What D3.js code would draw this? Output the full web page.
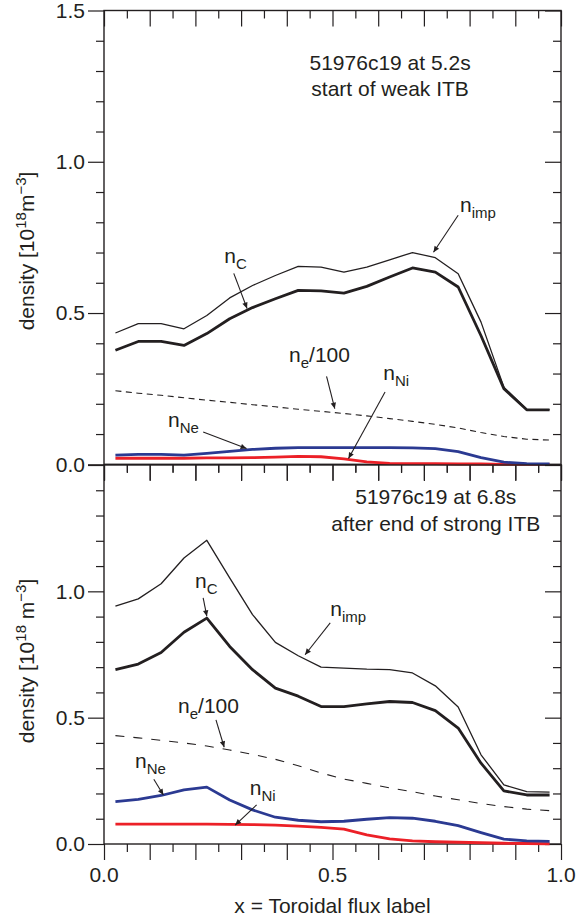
<!DOCTYPE html>
<html><head><meta charset="utf-8">
<script src="https://cdn.jsdelivr.net/npm/d3@7"></script>
<style>
body{margin:0;background:#fff}
svg{display:block}
text{font-family:"Liberation Sans",Arial,Helvetica,sans-serif;fill:#231f20}
</style>
</head><body><svg id="c" width="578" height="922"></svg>
<script>
// ---------- data ----------
const xVals = [0.025,0.075,0.125,0.175,0.225,0.275,0.325,0.375,0.425,0.475,0.525,0.575,0.625,0.675,0.725,0.775,0.825,0.875,0.925,0.975];

// top panel: 51976c19 at 5.2s
const topImp = [0.434,0.465,0.465,0.448,0.492,0.550,0.591,0.624,0.654,0.652,0.635,0.652,0.676,0.700,0.683,0.630,0.470,0.255,0.181,0.181];
const topC   = [0.377,0.406,0.406,0.393,0.432,0.481,0.518,0.547,0.575,0.573,0.566,0.588,0.619,0.649,0.635,0.586,0.425,0.250,0.180,0.180];
const topNe100 = [0.243,0.235,0.228,0.220,0.212,0.205,0.197,0.190,0.182,0.175,0.168,0.160,0.151,0.142,0.132,0.120,0.105,0.092,0.083,0.080];
const topNeon = [0.030,0.033,0.033,0.030,0.036,0.043,0.049,0.053,0.055,0.055,0.055,0.055,0.055,0.054,0.052,0.042,0.022,0.007,0.002,0.001];
const topNi  = [0.020,0.020,0.020,0.020,0.021,0.021,0.022,0.024,0.026,0.025,0.018,0.008,0.003,0.002,0.002,0.001,0.001,0.000,0.000,0.000];

// bottom panel: 51976c19 at 6.8s
const botImp = [0.941,0.970,1.030,1.132,1.202,1.053,0.908,0.798,0.745,0.700,0.696,0.692,0.690,0.677,0.626,0.542,0.353,0.234,0.207,0.205];
const botC   = [0.690,0.712,0.758,0.838,0.894,0.782,0.690,0.617,0.585,0.544,0.544,0.555,0.564,0.560,0.528,0.459,0.320,0.210,0.194,0.194];
const botNe100 = [0.429,0.420,0.410,0.400,0.388,0.372,0.355,0.335,0.310,0.281,0.257,0.240,0.222,0.207,0.190,0.175,0.160,0.148,0.138,0.132];
const botNeon = [0.168,0.177,0.192,0.214,0.225,0.174,0.135,0.106,0.094,0.088,0.090,0.098,0.104,0.102,0.090,0.073,0.045,0.019,0.012,0.010];
const botNi  = [0.079,0.079,0.079,0.079,0.079,0.078,0.077,0.075,0.071,0.066,0.059,0.036,0.020,0.012,0.009,0.007,0.005,0.003,0.002,0.001];

// ticks
const xMajorTicks = [0,0.1,0.2,0.3,0.4,0.5,0.6,0.7,0.8,0.9,1.0];
const xMinorTicks = [0.05,0.15,0.25,0.35,0.45,0.55,0.65,0.75,0.85,0.95];
const xTickLabels = [0,0.5,1.0];
const yMajorTicks = [0,0.5,1.0,1.5];
const yMinorTicks = [0.1,0.2,0.3,0.4,0.6,0.7,0.8,0.9,1.1,1.2,1.3,1.4];
const topYLabels = [0,0.5,1.0,1.5];
const botYLabels = [0,0.5,1.0];

const topTitle = ["51976c19 at 5.2s","start of weak ITB"];
const botTitle = ["51976c19 at 6.8s","after end of strong ITB"];

// annotations: [main, sub, tail, textX, textY, arrowFromX, arrowFromY, arrowToX, arrowToY]
const topNotes = [
  ["n","C","",0.263,0.664, 0.284,0.631, 0.313,0.515],
  ["n","imp","",0.779,0.833, 0.775,0.823, 0.721,0.701],
  ["n","e","/100",0.405,0.338, 0.487,0.291, 0.505,0.184],
  ["n","Ni","",0.611,0.278, 0.615,0.239, 0.535,0.019],
  ["n","Ne","",0.140,0.122, 0.217,0.107, 0.312,0.052]
];
const botNotes = [
  ["n","C","",0.199,1.013, 0.217,0.974, 0.225,0.901],
  ["n","imp","",0.495,0.901, 0.495,0.875, 0.440,0.749],
  ["n","e","/100",0.162,0.518, 0.245,0.491, 0.263,0.383],
  ["n","Ne","",0.068,0.300, 0.109,0.256, 0.130,0.194],
  ["n","Ni","",0.319,0.194, 0.334,0.155, 0.287,0.075]
];

// ---------- drawing ----------
const svg = d3.select("#c");
const INK = "#231f20";
const BLUE = "#2b3a92";
const RED = "#ec2027";

const x = d3.scaleLinear().domain([0,1]).range([104,561]);
const yTop = d3.scaleLinear().domain([0,1.5]).range([464.3,10.5]);
const yBot = d3.scaleLinear().domain([0,1.5]).range([844,465]);

svg.append("defs").append("marker")
  .attr("id","ah").attr("viewBox","0 0 10 10").attr("refX",10).attr("refY",5)
  .attr("markerUnits","userSpaceOnUse").attr("markerWidth",8).attr("markerHeight",6)
  .attr("orient","auto")
  .append("path").attr("d","M0,0.5 L10,5 L0,9.5 Z").attr("fill",INK);

function styleAxis(g){
  g.select(".domain").remove();
  g.selectAll("line").attr("stroke",INK).attr("stroke-width",1.2);
  g.attr("font-family",null).attr("font-size",null);
  g.selectAll("text").attr("fill",INK).style("font-size","21px");
}

function panel(y, labels, series, notes, title){
  // x ticks along top and bottom edges (pointing down)
  [y.range()[1], y.range()[0]].forEach(py=>{
    svg.append("g").attr("transform",`translate(0,${py})`)
      .call(d3.axisBottom(x).tickValues(xMinorTicks).tickSize(8).tickFormat(""))
      .call(styleAxis);
    svg.append("g").attr("transform",`translate(0,${py})`)
      .call(d3.axisBottom(x).tickValues(xMajorTicks).tickSize(16).tickFormat(""))
      .call(styleAxis);
  });
  // y ticks on left (outside) and right (inside), all pointing left
  [x.range()[0], x.range()[1]].forEach((px,i)=>{
    svg.append("g").attr("transform",`translate(${px},0)`)
      .call(d3.axisLeft(y).tickValues(yMinorTicks).tickSize(8).tickFormat(""))
      .call(styleAxis);
    svg.append("g").attr("transform",`translate(${px},0)`)
      .call(d3.axisLeft(y).tickValues(yMajorTicks).tickSize(16).tickPadding(3)
        .tickFormat(d=> (i===0 && labels.includes(d)) ? d3.format(".1f")(d) : ""))
      .call(styleAxis);
  });
  // frame
  svg.append("rect")
    .attr("x",x.range()[0]).attr("y",y.range()[1])
    .attr("width",x.range()[1]-x.range()[0]).attr("height",y.range()[0]-y.range()[1])
    .attr("fill","none").attr("stroke",INK).attr("stroke-width",1.4);

  const line = arr => d3.line().x((d,i)=>x(xVals[i])).y(d=>y(d))(arr);
  const add = (arr, color, w, dash) => svg.append("path").attr("d",line(arr))
      .attr("fill","none").attr("stroke",color).attr("stroke-width",w)
      .attr("stroke-linejoin","round")
      .attr("stroke-dasharray",dash||null);
  add(series.ne100, INK, 1.1, series.dash);
  add(series.ni, RED, 2.8);
  add(series.neon, BLUE, 2.8);
  add(series.imp, INK, 1.3);
  add(series.c, INK, 2.8);

  // title
  title.forEach((t,k)=>{
    svg.append("text").attr("x",x(series.tx)).attr("y",y(series.ty[k]))
      .attr("text-anchor","middle").style("font-size","21px").text(t);
  });

  // annotations
  notes.forEach(n=>{
    const t = svg.append("text").attr("x",x(n[3])).attr("y",y(n[4])).style("font-size","21px");
    t.append("tspan").text(n[0]);
    t.append("tspan").attr("dy",6).style("font-size","15px").text(n[1]);
    if(n[2]) t.append("tspan").attr("dy",-6).text(n[2]);
    svg.append("line")
      .attr("x1",x(n[5])).attr("y1",y(n[6])).attr("x2",x(n[7])).attr("y2",y(n[8]))
      .attr("stroke",INK).attr("stroke-width",1.1).attr("marker-end","url(#ah)");
  });
}

panel(yTop, topYLabels,
  {imp:topImp, c:topC, ne100:topNe100, neon:topNeon, ni:topNi, dash:"6,4.5", tx:0.626, ty:[1.302,1.219]},
  topNotes, topTitle);
panel(yBot, botYLabels,
  {imp:botImp, c:botC, ne100:botNe100, neon:botNeon, ni:botNi, dash:"9,9", tx:0.726, ty:[1.344,1.238]},
  botNotes, botTitle);

// x tick labels
xTickLabels.forEach(v=>{
  svg.append("text").attr("x",x(v)).attr("y",882).attr("text-anchor","middle")
    .style("font-size","21px").text(d3.format(".1f")(v));
});
// x axis title
svg.append("text").attr("x",(x(0)+x(1))/2).attr("y",913).attr("text-anchor","middle")
  .style("font-size","21px").text("x = Toroidal flux label");

// y axis titles
function yTitle(cy, spaced){
  const t = svg.append("text").attr("transform",`translate(34,${cy}) rotate(-90)`)
    .attr("text-anchor","middle").style("font-size","21px");
  t.append("tspan").text("density [10");
  t.append("tspan").attr("dy",-8).style("font-size","15px").text("18");
  t.append("tspan").attr("dy",8).text(spaced ? " m" : "m");
  t.append("tspan").attr("dy",-8).style("font-size","15px").text("\u22123");
  t.append("tspan").attr("dy",8).text("]");
}
yTitle(251, false);
yTitle(661, true);
</script>
</body></html>
